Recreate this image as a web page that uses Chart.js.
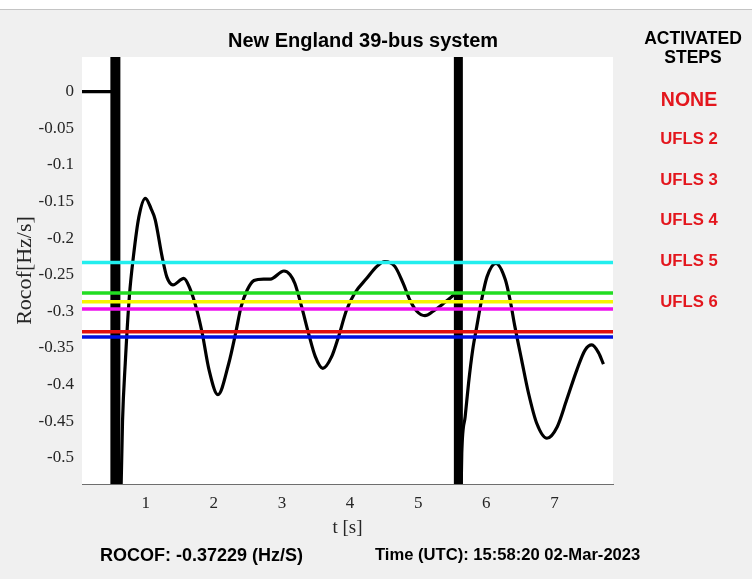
<!DOCTYPE html>
<html>
<head>
<meta charset="utf-8">
<title>New England 39-bus system</title>
<script src="https://cdn.jsdelivr.net/npm/chart.js@4.4.1/dist/chart.umd.min.js"></script>
<style>
  html, body { margin: 0; padding: 0; }
  body { width: 752px; height: 579px; background: #f0f0f0; overflow: hidden; }
  #frame { position: relative; width: 752px; height: 579px; }
  #topband { position: absolute; left: 0; top: 0; width: 752px; height: 9px; background: #ffffff; border-bottom: 1px solid #c4c4c4; }
  canvas { position: absolute; left: 0; top: 0; }
  .lbl { position: absolute; font-family: Arial, "Liberation Sans", sans-serif; font-weight: bold; white-space: nowrap; transform: translate(-50%, -50%); line-height: 1; }
  .left { transform: translate(0, -50%); }
  .red { color: #e3161d; }
</style>
</head>
<body>
<div id="frame">
  <div id="topband"></div>
  <canvas id="c" width="752" height="579"></canvas>
  <div class="lbl" style="left:363px; top:40px; font-size:20px; color:#000;">New England 39-bus system</div>
  <div class="lbl" style="left:693px; top:47.5px; font-size:17.5px; line-height:19px; text-align:center; color:#000;">ACTIVATED<br>STEPS</div>
  <div id="steps"></div>
  <div class="lbl left" style="left:100px; top:555px; font-size:18px; color:#000;" id="rocofText"></div>
  <div class="lbl left" style="left:375px; top:555px; font-size:16.6px; color:#000;" id="timeText"></div>
</div>
<script>
// Time axis [s] and rate of change of frequency [Hz/s]
const tSec = [
  0.065, 0.55, 0.56, 0.62, 0.66, 0.70, 0.76, 0.82, 0.90, 0.995, 1.08, 1.14, 1.24, 1.31, 1.40,
  1.56, 1.65, 1.75, 1.83, 1.93, 2.06, 2.22, 2.32, 2.40, 2.49, 2.59, 2.73, 2.83, 3.03, 3.12,
  3.19, 3.29, 3.39, 3.49, 3.60, 3.73, 3.83, 3.95, 4.07, 4.245, 4.39, 4.51, 4.66, 4.78, 4.88,
  4.98, 5.10, 5.22, 5.35, 5.47, 5.56, 5.59, 5.62, 5.64, 5.69, 5.74, 5.80, 5.86, 5.93, 6.01,
  6.14, 6.28, 6.35, 6.42, 6.52, 6.62, 6.74, 6.89, 7.04, 7.18, 7.33, 7.45, 7.55, 7.65, 7.72
];
const rocofHz = [
  0, 0, -0.70, -0.62, -0.45, -0.371, -0.280, -0.225, -0.171, -0.1457, -0.160, -0.175, -0.225, -0.253, -0.264,
  -0.255, -0.269, -0.298, -0.330, -0.380, -0.414, -0.371, -0.330, -0.294, -0.271, -0.258, -0.256, -0.256, -0.245, -0.250,
  -0.262, -0.294, -0.330, -0.362, -0.378, -0.362, -0.335, -0.298, -0.275, -0.255, -0.239, -0.232, -0.239, -0.262, -0.285,
  -0.300, -0.306, -0.300, -0.291, -0.282, -0.276, -0.70, -0.60, -0.494, -0.444, -0.398, -0.353, -0.321, -0.285, -0.253,
  -0.2345, -0.257, -0.285, -0.321, -0.367, -0.412, -0.453, -0.4735, -0.458, -0.421, -0.380, -0.353, -0.346, -0.357, -0.37229
];

// Disturbance instants [s]
const eventTimes = [0.555, 5.59];

// Under-frequency load shedding ROCOF thresholds [Hz/s]
const ufLimits = [-0.2335, -0.275, -0.287, -0.297, -0.328, -0.335];
const limitColors = ['#22eeee', '#22dd22', '#f6f600', '#ee11ee', '#e01010', '#0010e0'];

// Axis ranges and ticks
const xRange = [0.065, 7.86];
const yRange = [-0.536, 0.0474];
const xTicks = [1, 2, 3, 4, 5, 6, 7];
const yTicks = [0, -0.05, -0.1, -0.15, -0.2, -0.25, -0.3, -0.35, -0.4, -0.45, -0.5];

// Status panel
const activeStep = 'NONE';
const stepLabels = ['UFLS 2', 'UFLS 3', 'UFLS 4', 'UFLS 5', 'UFLS 6'];
const rocofNow = -0.37229;
const stampUtc = '15:58:20 02-Mar-2023';

// side panel + bottom read-outs
(function () {
  const box = document.getElementById('steps');
  const rows = [{ text: activeStep, size: 19.5, y: 100 }]
    .concat(stepLabels.map((s, i) => ({ text: s, size: 16.7, y: 139 + i * 40.7 })));
  rows.forEach(r => {
    const d = document.createElement('div');
    d.className = 'lbl red';
    d.style.left = '689px';
    d.style.top = r.y + 'px';
    d.style.fontSize = r.size + 'px';
    d.textContent = r.text;
    box.appendChild(d);
  });
  document.getElementById('rocofText').textContent = 'ROCOF: ' + rocofNow.toFixed(5) + ' (Hz/S)';
  document.getElementById('timeText').textContent = 'Time (UTC): ' + stampUtc;
})();

const curve = tSec.map((t, i) => ({ x: t, y: rocofHz[i] }));

const datasets = [];
ufLimits.forEach((v, i) => {
  datasets.push({
    data: [{ x: xRange[0], y: v }, { x: xRange[1], y: v }],
    borderColor: limitColors[i], borderWidth: 3.5, pointRadius: 0, clip: 0, order: 0
  });
});
eventTimes.forEach((t, i) => {
  datasets.push({
    data: [{ x: t, y: yRange[0] }, { x: t, y: yRange[1] }],
    borderColor: '#000000', borderWidth: i === 0 ? 10 : 9, pointRadius: 0, clip: 0, order: 1,
    borderCapStyle: 'butt'
  });
});
datasets.push({
  data: curve, borderColor: '#000000', borderWidth: 3.2, pointRadius: 0,
  cubicInterpolationMode: 'monotone', clip: 0, order: 2, borderJoinStyle: 'round'
});

// white plot box behind the data, curve clipped to it
const plotBox = {
  id: 'plotBox',
  beforeDatasetsDraw(chart) {
    const a = chart.chartArea, ctx = chart.ctx;
    ctx.save();
    ctx.fillStyle = '#ffffff';
    ctx.fillRect(a.left, a.top, a.right - a.left, a.bottom - a.top);
    ctx.restore();
  },
  beforeDatasetDraw(chart) {
    const a = chart.chartArea, ctx = chart.ctx;
    ctx.save();
    ctx.beginPath();
    ctx.rect(a.left, a.top, a.right - a.left, a.bottom - a.top);
    ctx.clip();
  },
  afterDatasetDraw(chart) { chart.ctx.restore(); }
};

const tickFont = { family: "'Times New Roman', 'Liberation Serif', serif", size: 17 };
const xTitleFont = { family: "'Times New Roman', 'Liberation Serif', serif", size: 19 };
const yTitleFont = { family: "'Times New Roman', 'Liberation Serif', serif", size: 22 };
const fmt = v => String(parseFloat(Number(v).toFixed(3)));

new Chart(document.getElementById('c'), {
  type: 'line',
  data: { datasets },
  plugins: [plotBox],
  options: {
    responsive: false,
    animation: false,
    devicePixelRatio: 1,
    layout: { padding: { left: 0, top: 57, right: 139, bottom: 0 } },
    plugins: { legend: { display: false }, tooltip: { enabled: false }, title: { display: false } },
    scales: {
      x: {
        type: 'linear', min: xRange[0], max: xRange[1],
        afterBuildTicks: s => { s.ticks = xTicks.map(v => ({ value: v })); },
        afterFit: s => { s.height = 95; s.paddingLeft = 0; s.paddingRight = 0; },
        ticks: { font: tickFont, color: '#262626', padding: 14, maxRotation: 0, callback: fmt },
        grid: { drawOnChartArea: false, tickLength: -5, tickColor: '#6e6e6e', tickWidth: 1 },
        border: { display: true, color: '#6e6e6e', width: 1 },
        title: { display: true, text: 't [s]', font: xTitleFont, color: '#262626', padding: { top: 0, bottom: 40 } }
      },
      y: {
        type: 'linear', min: yRange[0], max: yRange[1],
        afterBuildTicks: s => { s.ticks = yTicks.map(v => ({ value: v })); },
        afterFit: s => { s.width = 82; s.paddingTop = 0; s.paddingBottom = 0; },
        ticks: { font: tickFont, color: '#262626', padding: 13, callback: fmt },
        grid: { drawOnChartArea: false, tickLength: -5, tickColor: '#6e6e6e', tickWidth: 1 },
        border: { display: true, color: '#6e6e6e', width: 1 },
        title: { display: true, text: 'Rocof[Hz/s]', font: yTitleFont, color: '#262626', padding: { top: 12, bottom: 0 } }
      }
    }
  }
});
</script>
</body>
</html>
